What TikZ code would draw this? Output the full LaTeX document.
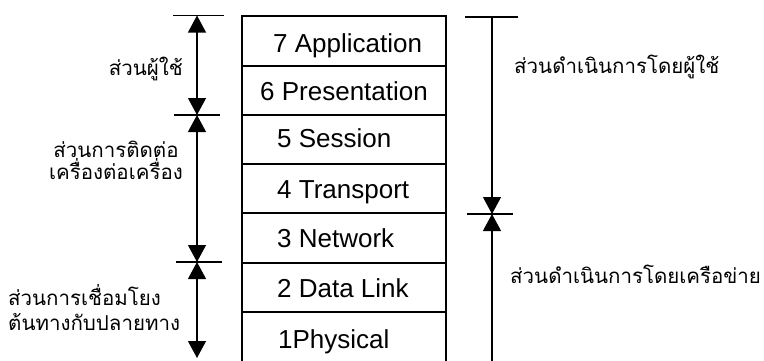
\documentclass[tikz,border=0pt]{standalone}
\usepackage{fontspec}
\setmainfont{Liberation Sans}
\newfontfamily\thaifont[Script=Thai]{Loma}
\usetikzlibrary{arrows.meta}

\begin{document}
\begin{tikzpicture}[x=1pt,y=-1pt,
  >={Triangle[length=17pt,width=18pt]},
  layer/.style={draw, line width=1.6pt, minimum width=204pt, inner sep=0pt, outer sep=0pt},
  layertext/.style={anchor=base west, inner sep=0pt, font=\fontsize{26}{30}\selectfont},
  dim/.style={line width=1.2pt},
  tickline/.style={line width=1.1pt},
  thailabel/.style={inner sep=0pt, font=\thaifont\fontsize{20.5}{24}\selectfont}
]
\useasboundingbox (0,0) rectangle (764,360);

% OSI layer stack
\node[layer, minimum height=50pt] (l7) at (344,41)    {};
\node[layer, minimum height=49pt] (l6) at (344,90.5)  {};
\node[layer, minimum height=49pt] (l5) at (344,139.5) {};
\node[layer, minimum height=49pt] (l4) at (344,188.5) {};
\node[layer, minimum height=50pt] (l3) at (344,238)   {};
\node[layer, minimum height=49pt] (l2) at (344,287.5) {};
\node[layer, minimum height=50pt] (l1) at (344,337)   {};

\node[layertext] (t7) at (273,52)  {7 Application};
\node[layertext] (t6) at (260,100) {6 Presentation};
\node[layertext] (t5) at (277,147) {5 Session};
\node[layertext] (t4) at (277,198) {4 Transport};
\node[layertext] (t3) at (277,247) {3 Network};
\node[layertext] (t2) at (277,297) {2 Data Link};
\node[layertext] (t1) at (278,348) {1Physical};

% left dimension line
\coordinate (La) at (197,15.5);
\coordinate (Lb) at (197,115);
\coordinate (Lc) at (197,262);
\coordinate (Ld) at (197,358);
\coordinate (La1) at (173,15.5); \coordinate (La2) at (224,15.5);
\coordinate (Lb1) at (174,115);  \coordinate (Lb2) at (220,115);
\coordinate (Lc1) at (176,262);  \coordinate (Lc2) at (222,262);
\draw[tickline] (La1) -- (La2);
\draw[tickline] (Lb1) -- (Lb2);
\draw[tickline] (Lc1) -- (Lc2);
\draw[dim,<->] (La) -- (Lb);
\draw[dim,<->] (Lb) -- (Lc);
\draw[dim,<->] (Lc) -- (Ld);

% right dimension line
\coordinate (Ra) at (492,17);
\coordinate (Rb) at (492,214);
\coordinate (Rc) at (492,362);
\coordinate (Ra1) at (465,17);  \coordinate (Ra2) at (518,17);
\coordinate (Rb1) at (467,214); \coordinate (Rb2) at (513,214);
\draw[tickline] (Ra1) -- (Ra2);
\draw[tickline] (Rb1) -- (Rb2);
\draw[dim,->] (Ra) -- (Rb);
\draw[dim,<-] (Rb) -- (Rc);

% labels (base anchor of a two-line node sits on its last line)
\node[thailabel, anchor=base east] (user) at (183,75) {ส่วนผู้ใช้};
\node[thailabel, anchor=base, align=center] (host) at (116,179)
  {ส่วนการติดต่อ\\[-2pt]เครื่องต่อเครื่อง};
\node[thailabel, anchor=base west, align=left] (link) at (8,330)
  {ส่วนการเชื่อมโยง\\[1pt]ต้นทางกับปลายทาง};
\node[thailabel, anchor=base west] (byuser) at (514,73) {ส่วนดำเนินการโดยผู้ใช้};
\node[thailabel, anchor=base west] (bynet) at (510,283) {ส่วนดำเนินการโดยเครือข่าย};
\end{tikzpicture}
\end{document}
